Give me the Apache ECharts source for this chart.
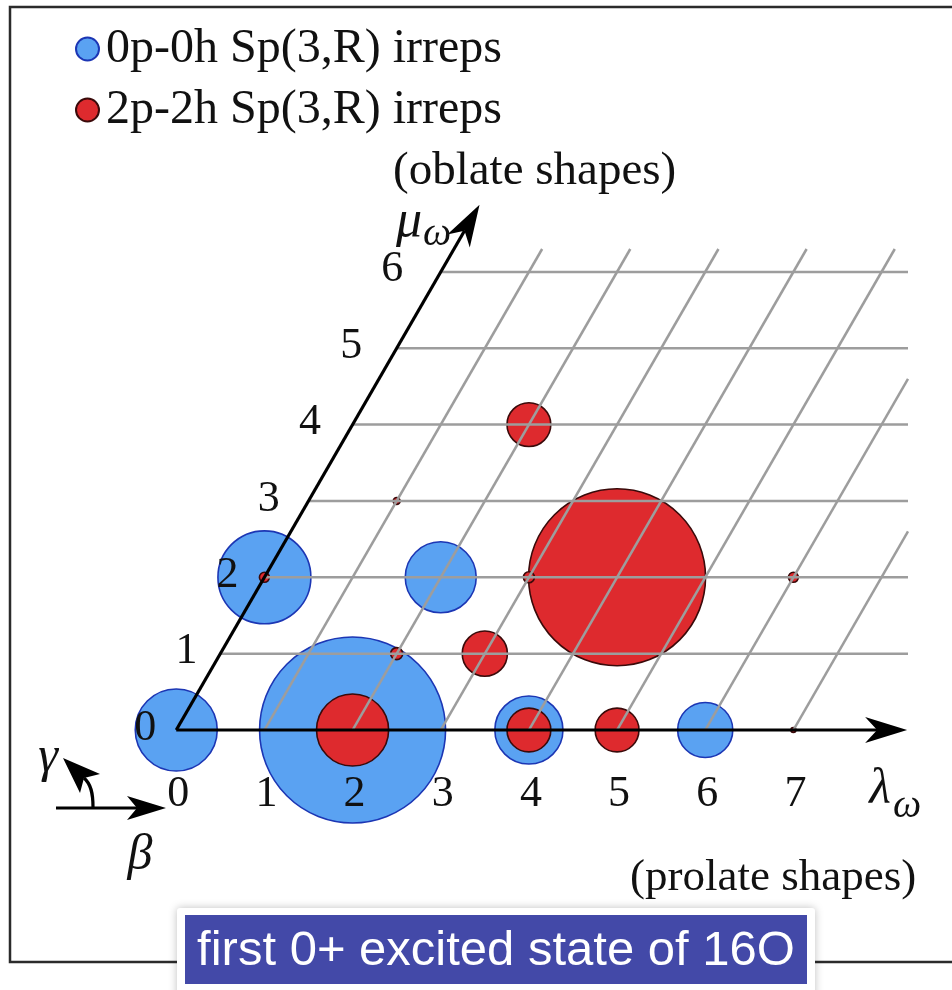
<!DOCTYPE html>
<html>
<head>
<meta charset="utf-8">
<script src="https://cdn.jsdelivr.net/npm/echarts@6/dist/echarts.min.js"></script>
<style>
  html, body { margin: 0; padding: 0; background: #ffffff; }
  #main { width: 952px; height: 990px; }
</style>
</head>
<body>
<div id="main"></div>
<script>
// Sp(3,R) irreps placed on the oblique (λω, μω) plane

// tick labels and lattice lines
const lambdaTicks = [0, 1, 2, 3, 4, 5, 6, 7];
const muTicks = [0, 1, 2, 3, 4, 5, 6];
const lambdaGrid = [1, 2, 3, 4, 5, 6, 7];
const muGrid = [1, 2, 3, 4, 5, 6];

// 0p-0h irreps: (λ, μ) and relative weight
const blueLambda = [0, 2, 0, 2, 4, 6];
const blueMu     = [0, 0, 2, 2, 0, 0];
const blueWeight = [16.8, 86.5, 21.6, 12.6, 11.6, 7.6];

// 2p-2h irreps: (λ, μ) and relative weight
const redLambda = [2, 4, 5, 3, 2, 4, 0, 2, 3, 6, 1, 7];
const redMu     = [0, 0, 0, 1, 4, 2, 2, 1, 2, 2, 3, 0];
const redWeight = [13.0, 4.8, 4.8, 5.1, 4.8, 78.3, 0.25, 0.36, 0.3, 0.25, 0.12, 0.06];

const seriesNames = ['0p-0h Sp(3,R) irreps', '2p-2h Sp(3,R) irreps'];

// plane extent and axis arrow lengths (in lattice units)
const LAMBDA_MAX = 8.3;
const MU_MAX = 6.3;
const LAMBDA_ARROW = 8.29;
const MU_ARROW = 6.88;

const SERIF = '"Liberation Serif", "Times New Roman", serif';
const INK = '#111111';

// the μ axis leans at 60°, so a lattice point sits at x = λ + μ/2
function toPlane(l, m, w) { return [l + m / 2, m, w]; }

const blueData = blueLambda.map((l, i) => toPlane(l, blueMu[i], blueWeight[i]));
const redData = redLambda.map((l, i) => toPlane(l, redMu[i], redWeight[i]));

const radiusOf = (val) => 20 * Math.sqrt(val[2]);

function arrowHead(tip, from, len, half, notch) {
  const dx = tip[0] - from[0], dy = tip[1] - from[1];
  const d = Math.hypot(dx, dy);
  const ux = dx / d, uy = dy / d, nx = -uy, ny = ux;
  return {
    points: [
      tip,
      [tip[0] - len * ux + half * nx, tip[1] - len * uy + half * ny],
      [tip[0] - notch * ux, tip[1] - notch * uy],
      [tip[0] - len * ux - half * nx, tip[1] - len * uy - half * ny]
    ],
    neck: [tip[0] - notch * ux, tip[1] - notch * uy]
  };
}

const chart = echarts.init(document.getElementById('main'), null, { renderer: 'canvas' });

const option = {
  animation: false,
  backgroundColor: '#ffffff',
  grid: { left: 44, right: 44, top: 249, bottom: 183.65, containLabel: false },
  xAxis: { type: 'value', min: -1.5, max: LAMBDA_MAX, show: false },
  yAxis: { type: 'value', min: -1, max: MU_MAX, show: false },
  legend: {
    orient: 'vertical',
    left: 75,
    top: 25,
    padding: 0,
    itemWidth: 23,
    itemHeight: 23,
    itemGap: 13,
    icon: 'circle',
    selectedMode: false,
    data: seriesNames,
    textStyle: { fontFamily: SERIF, fontSize: 48, lineHeight: 48, color: INK, padding: [0, 0, 0, 2] }
  },
  series: [
    {
      name: seriesNames[0],
      type: 'scatter',
      z: 2,
      data: blueData,
      symbol: 'circle',
      symbolSize: radiusOf,
      itemStyle: { color: '#5aa2f2', borderColor: '#1c36b4', borderWidth: 1.6, opacity: 1 },
      emphasis: { disabled: true }
    },
    {
      name: seriesNames[1],
      type: 'scatter',
      z: 2,
      data: redData,
      symbol: 'circle',
      symbolSize: radiusOf,
      itemStyle: { color: '#de2a2e', borderColor: '#3a0a0a', borderWidth: 1.6, opacity: 1 },
      emphasis: { disabled: true }
    },
    {
      // lattice lines: kind 0 runs parallel to μ from λ on the λ axis, kind 1 is a constant-μ row
      type: 'custom',
      z: 3,
      silent: true,
      data: lambdaGrid.map(l => [0, l]).concat(muGrid.map(m => [1, m])),
      renderItem: function (params, api) {
        const kind = api.value(0), v = api.value(1);
        const cs = params.coordSys;
        const right = cs.x + cs.width;
        let p0, p1;
        if (kind === 1) {
          p0 = api.coord([v / 2, v]);
          p1 = [right, p0[1]];
        } else {
          p0 = api.coord([v, 0]);
          p1 = api.coord([v + MU_MAX / 2, MU_MAX]);
          if (p1[0] > right) {
            const t = (right - p0[0]) / (p1[0] - p0[0]);
            p1 = [right, p0[1] + t * (p1[1] - p0[1])];
          }
        }
        return {
          type: 'line',
          shape: { x1: p0[0], y1: p0[1], x2: p1[0], y2: p1[1] },
          style: { stroke: '#9d9d9d', lineWidth: 2.5 }
        };
      }
    },
    {
      // λ and μ axes with arrowheads
      type: 'custom',
      z: 4,
      silent: true,
      data: [[0, 0]],
      renderItem: function (params, api) {
        const o = api.coord([0, 0]);
        const lt = api.coord([LAMBDA_ARROW, 0]);
        const mt = api.coord([MU_ARROW / 2, MU_ARROW]);
        const la = arrowHead(lt, o, 42, 13, 30);
        const ma = arrowHead(mt, o, 42, 13, 30);
        const axisStyle = { stroke: '#000', lineWidth: 3.2 };
        return {
          type: 'group',
          children: [
            { type: 'line', shape: { x1: o[0], y1: o[1], x2: la.neck[0], y2: la.neck[1] }, style: axisStyle },
            { type: 'line', shape: { x1: o[0], y1: o[1], x2: ma.neck[0], y2: ma.neck[1] }, style: axisStyle },
            { type: 'polygon', shape: { points: la.points }, style: { fill: '#000' } },
            { type: 'polygon', shape: { points: ma.points }, style: { fill: '#000' } }
          ]
        };
      }
    },
    {
      // λ tick labels under the λ axis
      type: 'custom',
      z: 5,
      silent: true,
      data: lambdaTicks.map(l => [l, 0]),
      renderItem: function (params, api) {
        const p = api.coord([api.value(0), 0]);
        return {
          type: 'text',
          x: p[0] + 2,
          y: p[1] + 64,
          style: {
            text: String(api.value(0)),
            fontFamily: SERIF, fontSize: 44, fill: INK,
            align: 'center', verticalAlign: 'middle'
          }
        };
      }
    },
    {
      // μ tick labels to the left of the μ axis, fanning out slightly with height
      type: 'custom',
      z: 5,
      silent: true,
      data: muTicks.map(m => [m / 2, m]),
      renderItem: function (params, api) {
        const m = api.value(1);
        const p = api.coord([m / 2, m]);
        return {
          type: 'text',
          x: p[0] - 31 - 2.9 * m,
          y: p[1] - 2,
          style: {
            text: String(m),
            fontFamily: SERIF, fontSize: 44, fill: INK,
            align: 'center', verticalAlign: 'middle'
          }
        };
      }
    }
  ],
  graphic: [
    // outer frame
    {
      type: 'rect', z: 0, silent: true,
      shape: { x: 10, y: 7, width: 990, height: 955 },
      style: { fill: 'none', stroke: '#2b2b2b', lineWidth: 2.5 }
    },
    // axis names and shape annotations
    {
      type: 'text', z: 10, x: 393, y: 172,
      style: { text: '(oblate shapes)', fontFamily: SERIF, fontSize: 47, fill: INK, align: 'left', verticalAlign: 'middle' }
    },
    {
      type: 'text', z: 10, x: 630, y: 878,
      style: { text: '(prolate shapes)', fontFamily: SERIF, fontSize: 45, fill: INK, align: 'left', verticalAlign: 'middle' }
    },
    {
      type: 'text', z: 10, x: 409, y: 222,
      style: { text: 'μ', fontFamily: SERIF, fontStyle: 'italic', fontSize: 52, fill: INK, align: 'center', verticalAlign: 'middle' }
    },
    {
      type: 'text', z: 10, x: 437, y: 234,
      style: { text: 'ω', fontFamily: SERIF, fontStyle: 'italic', fontSize: 40, fill: INK, align: 'center', verticalAlign: 'middle' }
    },
    {
      type: 'text', z: 10, x: 880, y: 790,
      style: { text: 'λ', fontFamily: SERIF, fontStyle: 'italic', fontSize: 50, fill: INK, align: 'center', verticalAlign: 'middle' }
    },
    {
      type: 'text', z: 10, x: 907, y: 806,
      style: { text: 'ω', fontFamily: SERIF, fontStyle: 'italic', fontSize: 40, fill: INK, align: 'center', verticalAlign: 'middle' }
    },
    // β / γ orientation key
    {
      type: 'text', z: 10, x: 48, y: 758,
      style: { text: 'γ', fontFamily: SERIF, fontStyle: 'italic', fontSize: 50, fill: INK, align: 'center', verticalAlign: 'middle' }
    },
    {
      type: 'text', z: 10, x: 140, y: 856,
      style: { text: 'β', fontFamily: SERIF, fontStyle: 'italic', fontSize: 50, fill: INK, align: 'center', verticalAlign: 'middle' }
    },
    {
      type: 'line', z: 10, silent: true,
      shape: { x1: 56, y1: 808, x2: 138, y2: 808 },
      style: { stroke: '#000', lineWidth: 3.2 }
    },
    {
      type: 'polygon', z: 10, silent: true,
      shape: { points: [[166, 808], [127, 796], [137, 808], [127, 820]] },
      style: { fill: '#000' }
    },
    {
      type: 'bezierCurve', z: 10, silent: true,
      shape: { x1: 93, y1: 807, x2: 84, y2: 778, cpx1: 93, cpy1: 793, cpx2: 91, cpy2: 784 },
      style: { stroke: '#000', lineWidth: 3.2, fill: 'none' }
    },
    {
      type: 'polygon', z: 10, silent: true,
      shape: { points: [[63, 758], [100, 774], [84, 778], [80, 793]] },
      style: { fill: '#000' }
    },
    // caption box
    {
      type: 'rect', z: 20, silent: true,
      shape: { x: 177, y: 908, width: 638, height: 92, r: 3 },
      style: { fill: '#ffffff', shadowBlur: 8, shadowColor: 'rgba(0,0,0,0.25)' }
    },
    {
      type: 'rect', z: 21, silent: true,
      shape: { x: 185, y: 915, width: 622, height: 69 },
      style: { fill: '#4349a8' }
    },
    {
      type: 'text', z: 22, x: 496, y: 951,
      style: {
        text: 'first 0+ excited state of 16O',
        fontFamily: '"Liberation Sans", Arial, sans-serif', fontSize: 49, fill: '#ffffff',
        align: 'center', verticalAlign: 'middle'
      }
    }
  ]
};

chart.setOption(option);
</script>
</body>
</html>
